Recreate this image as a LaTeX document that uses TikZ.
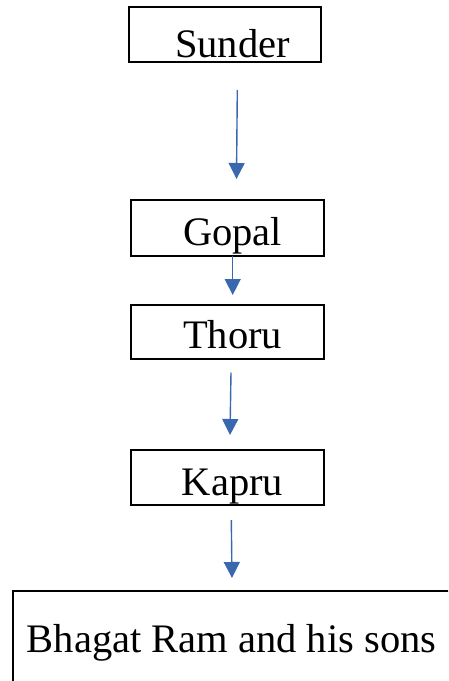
\documentclass[tikz,border=0pt]{standalone}
\usepackage{fontspec}
\setmainfont{Liberation Serif}
\usetikzlibrary{arrows.meta}
\definecolor{arrowblue}{HTML}{3A68AE}
\begin{document}
\begin{tikzpicture}[x=1pt, y=-1pt, line join=miter,
  name box/.style={draw=black, line width=1.6pt, rectangle, inner sep=0pt},
  name text/.style={anchor=base, inner sep=0pt, font=\fontsize{40.5}{48}\selectfont},
  down arrow/.style={draw=arrowblue, line width=1.4pt, -{Triangle[length=16pt,width=16pt,fill=arrowblue]}}]
\clip (0,0) rectangle (448,681);
% boxes
\node [name box, minimum width=192pt, minimum height=55pt](sunder) at (225,34.5) {};
\node [name box, minimum width=193pt, minimum height=56pt](gopal) at (227.5,228) {};
\node [name box, minimum width=193pt, minimum height=54pt](thoru) at (227.5,332) {};
\node [name box, minimum width=193pt, minimum height=55pt](kapru) at (227.5,477.5) {};
\node [name box, minimum width=447pt, minimum height=110pt](bhagat) at (236.5,646) {};
% names
\node [name text](sundertext) at (232.5,57) {Sunder};
\node [name text](gopaltext) at (232.5,245) {Gopal};
\node [name text](thorutext) at (232.5,348) {Thoru};
\node [name text](kaprutext) at (232.5,495) {Kapru};
\node [name text](bhagattext) at (231.5,652) {Bhagat Ram and his sons};
% arrow ends
\coordinate (a1) at (237.3,90);
\coordinate (b1) at (236.5,179);
\coordinate (a2) at (232.7,256);
\coordinate (b2) at (232.7,295);
\coordinate (a3) at (231,372.5);
\coordinate (b3) at (230,435);
\coordinate (a4) at (231.3,520);
\coordinate (b4) at (232,578);
\draw [down arrow] (a1) -- (b1);
\draw [down arrow] (a2) -- (b2);
\draw [down arrow] (a3) -- (b3);
\draw [down arrow] (a4) -- (b4);
\end{tikzpicture}
\end{document}
